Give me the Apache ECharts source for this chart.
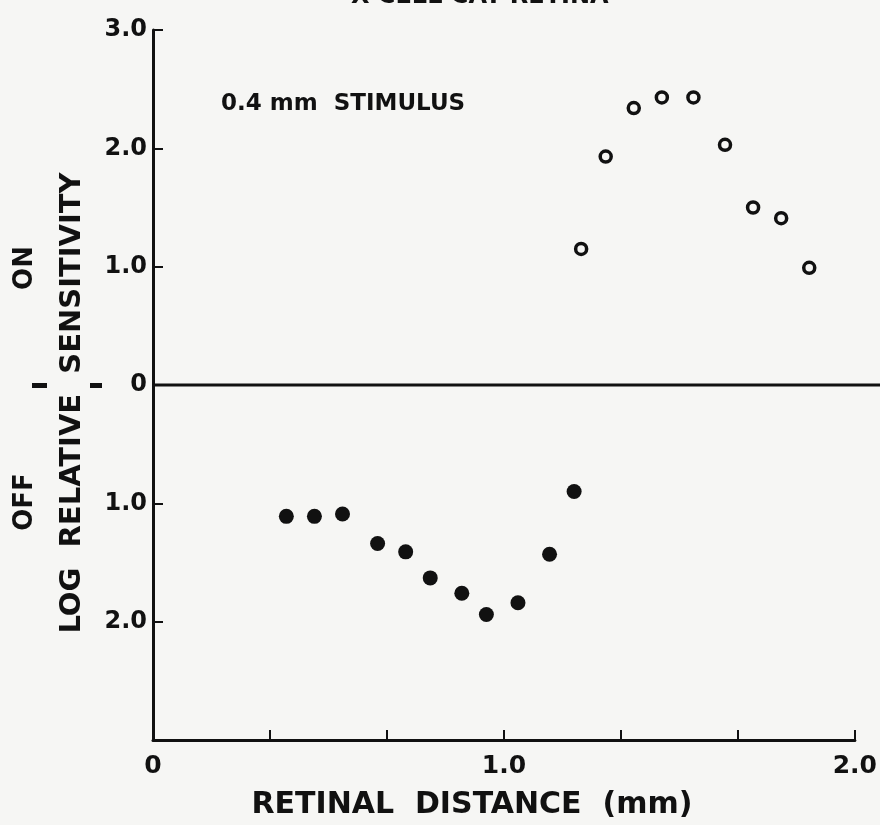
<!DOCTYPE html>
<html>
<head>
<meta charset="utf-8">
<script src="https://cdn.jsdelivr.net/npm/echarts@6/dist/echarts.min.js"></script>
<style>
  html, body { margin: 0; padding: 0; background: #f6f6f4; }
  #main { width: 880px; height: 825px; }
</style>
</head>
<body>
<div id="main"></div>
<script>
// ON responses (open circles)
var onDistance = [1.22, 1.29, 1.37, 1.45, 1.54, 1.63, 1.71, 1.79, 1.87];
var onSensitivity = [1.15, 1.93, 2.34, 2.43, 2.43, 2.03, 1.50, 1.41, 0.99];
// OFF responses (filled circles), plotted below zero
var offDistance = [0.38, 0.46, 0.54, 0.64, 0.72, 0.79, 0.88, 0.95, 1.04, 1.13, 1.20];
var offSensitivity = [-1.11, -1.11, -1.09, -1.34, -1.41, -1.63, -1.76, -1.94, -1.84, -1.43, -0.90];

var xTickLabels = ['0', '1.0', '2.0'];
var titleText = 'X CELL CAT RETINA';
var stimulusText = '0.4 mm  STIMULUS';

var ink = '#111';
var paper = '#f6f6f4';
var font = 'DejaVu Sans';

function pairs(xs, ys) {
  return xs.map(function (x, i) { return [x, ys[i]]; });
}

var dom = document.getElementById('main');
var myChart = echarts.init(dom);

var option = {
  backgroundColor: paper,
  animation: false,
  title: [
    {
      text: titleText,
      left: 346, top: -20,
      textStyle: { fontFamily: font, fontWeight: 'bold', fontSize: 24, color: ink }
    },
    {
      text: stimulusText,
      left: 216, top: 88,
      textStyle: { fontFamily: font, fontWeight: 'bold', fontSize: 23, color: ink }
    }
  ],
  grid: { left: 153, right: 25, top: 30, bottom: 85 },
  xAxis: {
    type: 'value',
    min: 0, max: 2, interval: 1 / 3,
    name: 'RETINAL  DISTANCE  (mm)',
    nameLocation: 'middle',
    nameGap: 50,
    nameTextStyle: {
      fontFamily: font, fontWeight: 'bold', fontSize: 30, color: ink,
      padding: [0, 64, 0, 0]
    },
    axisLine: { onZero: false, lineStyle: { color: ink, width: 3 } },
    axisTick: { inside: true, length: 10, lineStyle: { color: ink, width: 2 } },
    axisLabel: {
      margin: 14,
      fontFamily: font, fontWeight: 'bold', fontSize: 25, color: ink,
      formatter: function (v) {
        var r = Math.round(v);
        return Math.abs(v - r) < 0.01 ? xTickLabels[r] : '';
      }
    },
    splitLine: { show: false }
  },
  yAxis: {
    type: 'value',
    min: -3, max: 3, interval: 1,
    name: 'LOG  RELATIVE  SENSITIVITY',
    nameLocation: 'middle',
    nameRotate: 90,
    nameGap: 66,
    nameTextStyle: {
      fontFamily: font, fontWeight: 'bold', fontSize: 29, color: ink,
      padding: [0, 36, 0, 0]
    },
    axisLine: { lineStyle: { color: ink, width: 3 } },
    axisTick: { inside: true, length: 10, lineStyle: { color: ink, width: 2 } },
    axisLabel: {
      margin: 6,
      fontFamily: font, fontWeight: 'bold', fontSize: 24, color: ink,
      formatter: function (v) {
        if (v === 0) return '0';
        if (v === -3) return '';
        return Math.abs(v).toFixed(1);
      }
    },
    splitLine: { show: false }
  },
  series: [
    {
      name: 'ON',
      type: 'scatter',
      symbol: 'circle',
      symbolSize: 11,
      itemStyle: { color: paper, borderColor: ink, borderWidth: 3.5, opacity: 1 },
      data: pairs(onDistance, onSensitivity)
    },
    {
      name: 'OFF',
      type: 'scatter',
      symbol: 'circle',
      symbolSize: 15,
      itemStyle: { color: ink, opacity: 1 },
      data: pairs(offDistance, offSensitivity)
    }
  ]
};
myChart.setOption(option);

// zero line runs past the end of the axis to the page edge; side labels
var zero = myChart.convertToPixel({ gridIndex: 0 }, [0, 0]);
myChart.setOption({
  graphic: [
    {
      type: 'line', z: 1,
      shape: { x1: zero[0], y1: zero[1], x2: 880, y2: zero[1] },
      style: { stroke: ink, lineWidth: 3 }
    },
    {
      type: 'text', x: 25, y: zero[1] - 117, rotation: Math.PI / 2,
      style: { text: 'ON', fill: ink, font: 'bold 26px "DejaVu Sans"', align: 'center', verticalAlign: 'middle' }
    },
    {
      type: 'text', x: 25, y: zero[1] + 117, rotation: Math.PI / 2,
      style: { text: 'OFF', fill: ink, font: 'bold 26px "DejaVu Sans"', align: 'center', verticalAlign: 'middle' }
    },
    {
      type: 'rect', shape: { x: 32, y: zero[1] - 2, width: 15, height: 5 },
      style: { fill: ink }
    },
    {
      type: 'rect', shape: { x: 90, y: zero[1] - 2, width: 12, height: 5 },
      style: { fill: ink }
    }
  ]
});
</script>
</body>
</html>
